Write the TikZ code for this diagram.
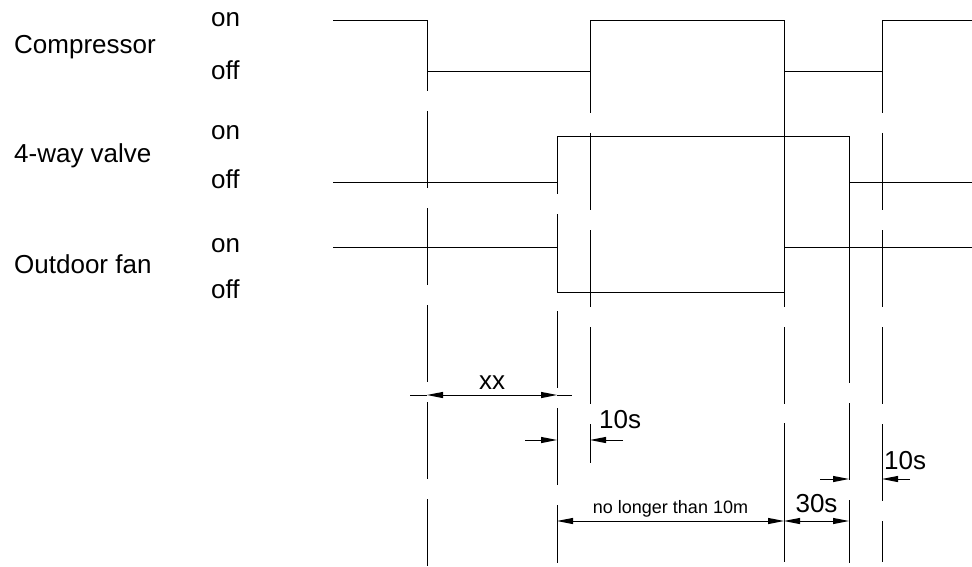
\documentclass[tikz,border=0pt]{standalone}
\usepackage{fontspec}
\setmainfont{Liberation Sans}
\usetikzlibrary{arrows.meta,calc}
\tikzset{>={Triangle[length=16pt,width=6pt]},line width=1pt,
  every node/.style={font=\fontsize{26}{31}\selectfont,inner sep=0pt},
  wave/.style={draw=black,line width=1pt},
  guide/.style={draw=black,line width=1pt,dash pattern=on 77pt off 20pt},
  dim/.style={<->,draw=black,line width=1pt},
  tick/.style={->,draw=black,line width=1pt},
  small/.style={font=\fontsize{18}{22}\selectfont}}

\begin{document}
\begin{tikzpicture}[x=1pt,y=-1pt]
\useasboundingbox (0,0) rectangle (972,567);
% signal names and levels
\node[anchor=base west] (comp) at (14,54) {Compressor};
\node[anchor=base west] (valve) at (14,163) {4-way valve};
\node[anchor=base west] (fan) at (14,273) {Outdoor fan};
\foreach \n/\yon/\yoff in {c/27/80,v/140/188,f/252/298}{
  \node[anchor=base west] (on\n) at (211,\yon) {on};
  \node[anchor=base west] (off\n) at (211,\yoff) {off};}
% signals
\draw[wave] (333,21) -| (427,72) -| (590,21) -| (784,72) -| (882,21) -- (972,21);
\draw[wave] (333,182) -| (557,137) -| (849,182) -- (972,182);
\draw[wave] (333,247) -| (557,292) -| (784,247) -- (972,247);
% guides
\draw[guide,dash phase=7pt] (427,21) -- (427,566);
\draw[guide,dash phase=20pt] (557,137) -- (557,563);
\draw[guide,dash phase=36pt] (590,72) -- (590,463);
\draw[guide,dash pattern=on 235pt off 20pt on 77pt off 19pt on 200pt] (784,72) -- (784,562);
\draw[guide,dash pattern=on 201pt off 20pt on 77pt off 20pt on 100pt] (849,182) -- (849,563);
\draw[guide,dash phase=36pt] (882,72) -- (882,562);
% dimensions
\coordinate (xxl) at (427,395); \coordinate (xxr) at (557,395);
\coordinate (sal) at (557,440); \coordinate (sar) at (590,440);
\coordinate (nl) at (557,521); \coordinate (nr) at (784,521); \coordinate (tr) at (849,521);
\coordinate (sbl) at (849,479); \coordinate (sbr) at (882,479);
\draw (xxl) -- +(-17,0); \draw (xxr) -- +(15,0);
\draw[dim] (xxl) -- node[above=5pt] (xx) {xx} (xxr);
\draw[tick] ($(sal)+(-32,0)$) -- (sal); \draw[tick] ($(sar)+(33,0)$) -- (sar);
\node[anchor=base west] (ta) at (599,428) {10s};
\draw[dim] (nl) -- node[above=3pt,small] (nt) {no longer than 10m} (nr);
\draw[dim] (nr) -- node[above=8pt] (tt) {30s} (tr);
\draw[tick] ($(sbl)+(-29,0)$) -- (sbl); \draw[tick] ($(sbr)+(28,0)$) -- (sbr);
\node[anchor=base west] (tb) at (884,469) {10s};
\end{tikzpicture}
\end{document}
